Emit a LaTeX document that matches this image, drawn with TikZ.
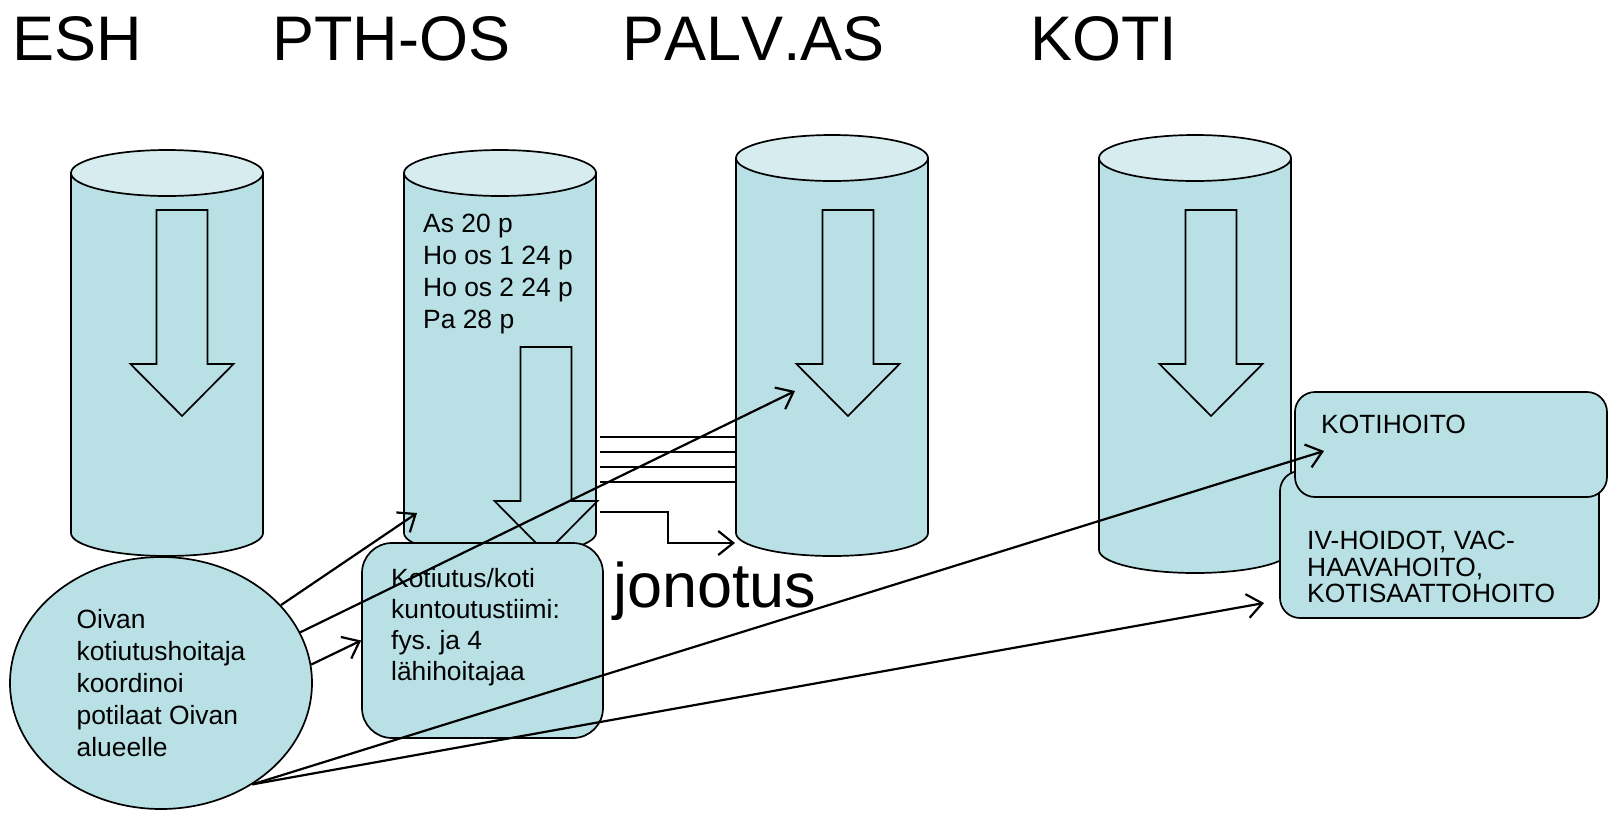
\documentclass[tikz,border=0pt]{standalone}
\usepackage{fontspec}
\setmainfont{Liberation Sans}
\newfontfamily\hdrfont[Kerning=Off]{Liberation Sans}
\usetikzlibrary{shapes.geometric,arrows.meta}
\definecolor{cylbody}{RGB}{185,224,228}
\definecolor{cyltop}{RGB}{214,236,239}
\frenchspacing
\begin{document}
\begin{tikzpicture}[x=1pt, y=-1pt,
	every node/.style={inner sep=0pt, font=\fontsize{26.4}{32}\selectfont},
	hdr/.style={font=\hdrfont\fontsize{63}{75}\selectfont},
	cylside/.style={fill=cylbody, draw, line width=1.7pt},
	cylend/.style={fill=cyltop, draw, line width=1.7pt},
	downarrow/.style={fill=cylbody, draw, line width=1.7pt, line join=miter},
	roundbox/.style={rectangle, fill=cylbody, draw, line width=1.7pt},
	conn/.style={line width=2.2pt, -{Straight Barb[length=15pt, width=24pt, line width=2.2pt]}}
]
\useasboundingbox (0,0) rectangle (1612,812);

\foreach [count=\i] \x\t in {
	12/ESH
	,272/PTH-OS
	,622/PALV.AS
	,1030/KOTI
}{
	\node[hdr, anchor=base west](hdr\i) at(\x,60) {\t};
}

\foreach \cx\yt\yb in {
	167/173/533
	,500/173/533
	,832/158/533
	,1195/158/550
}{
	\filldraw[cylside] (\cx-96,\yt) -- (\cx-96,\yb) arc[start angle=180, end angle=0, x radius=96, y radius=23] -- (\cx+96,\yt) -- cycle;
	\filldraw[cylend] (\cx,\yt) ellipse[x radius=96, y radius=23];
}

\foreach \ax\at\ab in {
	182/210/364
	,546/347/501
	,848/210/364
	,1211/210/364
}{
	\filldraw[downarrow] (\ax-25.5,\at) -- (\ax+25.5,\at) -- (\ax+25.5,\ab) -- (\ax+51.5,\ab) -- (\ax,\ab+52) -- (\ax-51.5,\ab) -- (\ax-25.5,\ab) -- cycle;
}

\node[anchor=north west, align=left](paikat) at(423,214) {As 20 p\\Ho os 1 24 p\\Ho os 2 24 p\\Pa 28 p};

\foreach \y in {437,452,467,482}{
	\draw[line width=2pt] (600,\y) -- (736,\y);
}
\coordinate(jono) at(600,512);
\coordinate(palvin) at(735,543);
\draw[conn] (jono) -- ++(68,0) |- (palvin);

\node[roundbox, rounded corners=30pt, minimum width=241, minimum height=195](tiimi) at(482.5,640.5) {};
\node[anchor=north west, align=left, font=\fontsize{26.4}{31}\selectfont](tiimitxt) at(391,568) {Kotiutus/koti\\kuntoutustiimi:\\fys. ja 4\\lähihoitajaa};

\node[ellipse, fill=cylbody, draw, line width=1.7pt, minimum width=302, minimum height=252, align=left](oivan) at(161,683) {Oivan\\kotiutushoitaja\\koordinoi\\potilaat Oivan\\alueelle};

\node[roundbox, rounded corners=20pt, minimum width=319, minimum height=147](iv) at(1439.5,544.5) {};
\node[anchor=north west, align=left, font=\fontsize{26.4}{26.5}\selectfont](ivtxt) at(1307,531) {IV-HOIDOT, VAC-\\HAAVAHOITO,\\KOTISAATTOHOITO};
\node[roundbox, rounded corners=20pt, minimum width=312, minimum height=105](kotihoito) at(1451,444.5) {};
\node[anchor=base west](kotihoitotxt) at(1321,433) {KOTIHOITO};

\node[hdr, anchor=base west](jonotus) at(613,607) {jonotus};

\coordinate(pthos) at(417,513);
\coordinate(palv) at(795,391);
\coordinate(kotih) at(1324,451);
\coordinate(ivh) at(1264,603);

\draw[conn] (oivan.33) -- (pthos);
\draw[conn] (oivan.20) -- (palv);
\draw[conn] (oivan.7) -- (tiimi.west);
\draw[conn] (oivan.-48) -- (kotih);
\draw[conn] (oivan.-48) -- (ivh);

\end{tikzpicture}
\end{document}
